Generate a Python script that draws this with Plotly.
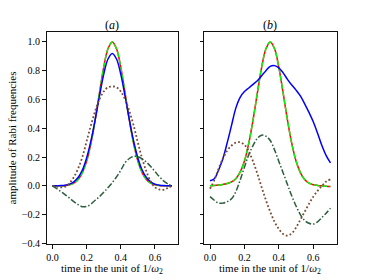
import plotly.graph_objects as go

# time grid (unit 1/omega_2)
t = [0.0, 0.025, 0.05, 0.075, 0.1, 0.125, 0.15, 0.175, 0.2, 0.225, 0.25, 0.275, 0.3, 0.325,
     0.35, 0.375, 0.4, 0.425, 0.45, 0.475, 0.5, 0.525, 0.55, 0.575, 0.6, 0.625, 0.65, 0.675, 0.7]

# panel (a)
red_a = [0.0, 0.0, 0.001, 0.003, 0.008, 0.019, 0.044, 0.092, 0.172, 0.295, 0.458, 0.644, 0.823, 0.952,
         1.0, 0.952, 0.823, 0.644, 0.458, 0.295, 0.172, 0.092, 0.044, 0.019, 0.008, 0.003, 0.001, 0.0, 0.0]
green_a = [0.0, 0.0, 0.001, 0.003, 0.008, 0.019, 0.044, 0.092, 0.172, 0.295, 0.458, 0.644, 0.823, 0.952,
           1.0, 0.952, 0.823, 0.644, 0.458, 0.295, 0.172, 0.092, 0.044, 0.019, 0.008, 0.003, 0.001, 0.0, 0.0]
blue_a = [0.0, 0.001, 0.002, 0.005, 0.012, 0.028, 0.058, 0.11, 0.194, 0.312, 0.46, 0.623, 0.774, 0.881,
          0.92, 0.881, 0.774, 0.623, 0.46, 0.312, 0.194, 0.11, 0.058, 0.028, 0.012, 0.005, 0.002, 0.001, 0.0]
brown_a = [0.0, -0.005, -0.01, -0.005, 0.02, 0.06, 0.12, 0.2, 0.31, 0.42, 0.52, 0.6, 0.655, 0.685,
           0.69, 0.685, 0.655, 0.6, 0.52, 0.42, 0.3, 0.19, 0.1, 0.03, -0.01, -0.025, -0.028, -0.015, 0.0]
dg_a = [0.0, -0.02, -0.04, -0.062, -0.085, -0.11, -0.13, -0.145, -0.143, -0.127, -0.1, -0.075, -0.045, -0.012,
        0.022, 0.062, 0.108, 0.16, 0.19, 0.205, 0.203, 0.188, 0.165, 0.135, 0.1, 0.065, 0.035, 0.014, 0.0]

# panel (b)
red_b = [0.0, 0.003, 0.006, 0.01, 0.016, 0.028, 0.05, 0.095, 0.172, 0.295, 0.458, 0.644, 0.823, 0.952,
         1.0, 0.952, 0.823, 0.644, 0.458, 0.295, 0.172, 0.092, 0.044, 0.019, 0.008, 0.003, 0.0, -0.003, -0.005]
green_b = [0.0, 0.003, 0.006, 0.01, 0.016, 0.028, 0.05, 0.095, 0.172, 0.295, 0.458, 0.644, 0.823, 0.952,
           1.0, 0.952, 0.823, 0.644, 0.458, 0.295, 0.172, 0.092, 0.044, 0.019, 0.008, 0.003, 0.0, -0.003, -0.005]
blue_b = [0.035, 0.05, 0.11, 0.19, 0.3, 0.42, 0.54, 0.615, 0.655, 0.68, 0.705, 0.73, 0.765, 0.8,
          0.83, 0.835, 0.82, 0.785, 0.74, 0.7, 0.665, 0.625, 0.57, 0.51, 0.445, 0.365, 0.28, 0.21, 0.16]
brown_b = [-0.02, 0.04, 0.12, 0.19, 0.245, 0.28, 0.3, 0.303, 0.285, 0.24, 0.17, 0.085, -0.01, -0.1,
           -0.18, -0.25, -0.3, -0.335, -0.345, -0.33, -0.29, -0.235, -0.18, -0.125, -0.075, -0.035, 0.0, 0.03, 0.045]
dg_b = [-0.075, -0.1, -0.12, -0.12, -0.11, -0.09, -0.04, 0.04, 0.13, 0.215, 0.28, 0.33, 0.352, 0.345,
        0.315, 0.25, 0.17, 0.09, 0.01, -0.07, -0.14, -0.2, -0.24, -0.26, -0.265, -0.25, -0.22, -0.19, -0.155]

y_ticks = [-0.4, -0.2, 0.0, 0.2, 0.4, 0.6, 0.8, 1.0]
x_ticks = [0.0, 0.2, 0.4, 0.6]
panel_titles = ["(<i>a</i>)", "(<i>b</i>)"]
x_title = "time in the unit of 1/<i>ω</i><sub>2</sub>"
y_title = "amplitude of Rabi frequencies"

FONT = "Liberation Serif, Times New Roman, serif"
RED = "#ff0000"
GREEN = "#11ee11"
BLUE = "#0000ff"
BROWN = "#7a4a33"
DKGREEN = "#2a5e3c"

fig = go.Figure()


def add_panel(xa, ya, red, green, blue, brown, dg):
    common = dict(x=t, mode="lines", xaxis=xa, yaxis=ya, showlegend=False, hoverinfo="skip")
    fig.add_trace(go.Scatter(y=red, line=dict(color=RED, width=1.5, shape="spline"), **common))
    fig.add_trace(go.Scatter(y=green, line=dict(color=GREEN, width=1.5, dash="5.5px,2.4px", shape="spline"), **common))
    fig.add_trace(go.Scatter(y=blue, line=dict(color=BLUE, width=1.5, shape="spline"), **common))
    fig.add_trace(go.Scatter(y=brown, line=dict(color=BROWN, width=1.8, dash="1.8px,2.2px", shape="spline"), **common))
    fig.add_trace(go.Scatter(y=dg, line=dict(color=DKGREEN, width=1.5, dash="6px,2px,1.5px,2px", shape="spline"), **common))


add_panel("x", "y", red_a, green_a, blue_a, brown_a, dg_a)
add_panel("x2", "y2", red_b, green_b, blue_b, brown_b, dg_b)

W, H = 374, 280
xa_dom = [46.5 / W, 178.0 / W]
xb_dom = [204.0 / W, 336.5 / W]
y_dom = [(H - 248.0) / H, (H - 32.7) / H]

axis_common = dict(showline=True, linecolor="#111", linewidth=1, mirror=True,
                   ticks="outside", ticklen=3.5, tickwidth=0.8, tickcolor="#111",
                   showgrid=False, zeroline=False,
                   tickfont=dict(family=FONT, size=10, color="#000"))

fig.update_layout(
    width=W, height=H,
    margin=dict(l=0, r=0, t=0, b=0),
    paper_bgcolor="white", plot_bgcolor="white",
    font=dict(family=FONT, color="#000"),
    xaxis=dict(domain=xa_dom, anchor="y", range=[-0.035, 0.735], tickvals=x_ticks,
               tickformat=".1f", **axis_common),
    yaxis=dict(domain=y_dom, anchor="x", range=[-0.407, 1.067], tickvals=y_ticks,
               tickformat=".1f", **axis_common),
    xaxis2=dict(domain=xb_dom, anchor="y2", range=[-0.035, 0.735], tickvals=x_ticks,
                tickformat=".1f", **axis_common),
    yaxis2=dict(domain=y_dom, anchor="x2", range=[-0.407, 1.067], tickvals=y_ticks,
                showticklabels=False, **axis_common),
)

anns = []
for dom, title in zip([xa_dom, xb_dom], panel_titles):
    cx = (dom[0] + dom[1]) / 2
    anns.append(dict(text=title, x=cx, y=(H - 25.0) / H, xref="paper", yref="paper",
                     xanchor="center", yanchor="middle", showarrow=False, borderpad=0,
                     font=dict(family=FONT, size=12, color="#000")))
    anns.append(dict(text=x_title, x=cx, y=(H - 273.0) / H, xref="paper", yref="paper",
                     xanchor="center", yanchor="middle", showarrow=False, borderpad=0,
                     font=dict(family=FONT, size=11, color="#000")))
anns.append(dict(text=y_title, x=12.0 / W, y=(H - 140.4) / H, xref="paper", yref="paper",
                 xanchor="center", yanchor="middle", textangle=-90, showarrow=False, borderpad=0,
                 font=dict(family=FONT, size=11, color="#000")))
fig.update_layout(annotations=anns)

fig.write_html("out.html", config={"displayModeBar": False},
               post_script="document.body.style.margin='0';document.body.style.padding='0';")
